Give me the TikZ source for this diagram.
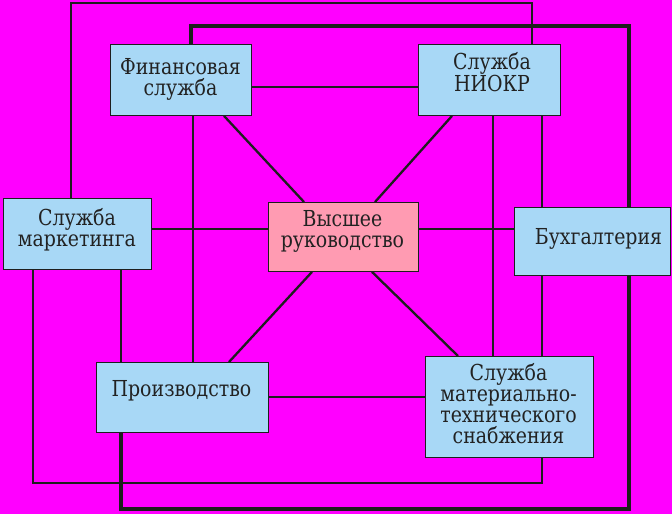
\documentclass[tikz,border=0pt]{standalone}
\usepackage{fontspec}
\newfontfamily\lserif{DejaVu Serif}[FakeStretch=0.86]
\definecolor{bg}{HTML}{FF00FF}
\definecolor{boxblue}{HTML}{A8D8F6}
\definecolor{boxpink}{HTML}{FF9BB2}
\definecolor{ln}{HTML}{1E1E1E}
\definecolor{txt}{HTML}{222222}
\pgfdeclarelayer{bgfill}
\pgfdeclarelayer{bglines}
\pgfsetlayers{bgfill,bglines,main}
\tikzset{
  box/.style={draw=ln, line width=0.9pt, fill=boxblue, rectangle, inner sep=0pt, anchor=north west},
  pinkbox/.style={box, fill=boxpink},
  lbl/.style={text=txt, align=center, inner sep=0pt, font=\lserif\fontsize{22}{21}\selectfont},
  conn/.style={draw=ln, line width=2.3pt},
  thickconn/.style={draw=ln, line width=2.8pt},
  heavyconn/.style={draw=ln, line width=3.3pt},
}
\begin{document}
\begin{tikzpicture}[x=1pt, y=-1pt]
\useasboundingbox (0,0) rectangle (672,514);
\begin{pgfonlayer}{bgfill}
\fill[bg] (0,0) rectangle (672,514);
\end{pgfonlayer}
% boxes
\node[box, minimum width=141pt, minimum height=71pt] (fin) at (110,44) {};
\node[box, minimum width=142pt, minimum height=71pt] (niokr) at (418,44) {};
\node[box, minimum width=148pt, minimum height=71pt] (mark) at (3,198) {};
\node[pinkbox, minimum width=150pt, minimum height=69pt] (vyssh) at (268,202) {};
\node[box, minimum width=156pt, minimum height=68pt] (buh) at (514,207) {};
\node[box, minimum width=172pt, minimum height=70pt] (proizv) at (96,362) {};
\node[box, minimum width=168pt, minimum height=101pt] (mts) at (425,356) {};
% labels
\node[lbl] (finT) at (180.5,79) {Финансовая\\служба};
\node[lbl] (niokrT) at (492,72.5) {Служба\\НИОКР};
\node[lbl] (markT) at (77,229.5) {Служба\\маркетинга};
\node[lbl] (vysshT) at (342.5,231) {Высшее\\руководство};
\node[lbl] (buhT) at (598.5,239) {Бухгалтерия};
\node[lbl] (proizvT) at (181.5,391) {Производство};
\node[lbl] (mtsT) at (508.5,403.5) {Служба\\материально-\\технического\\снабжения};
% connectors (behind boxes)
\begin{pgfonlayer}{bglines}
\draw[thickconn] (71,0 |- mark.north) -- (71,3) -- (532,3) -- (532,0 |- niokr.north);
\draw[heavyconn] (191,0 |- fin.north) -- (191,26) -- (629,26) -- (629,509) -- (121,509) -- (121,0 |- proizv.south);
\draw[conn] (33,0 |- mark.south) -- (33,483) -- (542,483) -- (542,0 |- mts.south);
\draw[thickconn] (fin.east |- 0,87) -- (niokr.west |- 0,87);
\draw[conn] (193,0 |- fin.south) -- (193,0 |- proizv.north);
\draw[conn] (493,0 |- niokr.south) -- (493,0 |- mts.north);
\draw[conn] (542,0 |- niokr.south) -- (542,0 |- buh.north);
\draw[conn] (542,0 |- buh.south) -- (542,0 |- mts.north);
\draw[thickconn] (mark.east |- 0,229) -- (vyssh.west |- 0,229);
\draw[thickconn] (vyssh.east |- 0,229) -- (buh.west |- 0,229);
\draw[conn] (121,0 |- mark.south) -- (121,0 |- proizv.north);
\draw[conn] (proizv.east |- 0,397) -- (mts.west |- 0,397);
\draw[conn] (224,0 |- fin.south) -- (304,0 |- vyssh.north);
\draw[conn] (452,0 |- niokr.south) -- (375,0 |- vyssh.north);
\draw[conn] (312,0 |- vyssh.south) -- (229,0 |- proizv.north);
\draw[conn] (372,0 |- vyssh.south) -- (458,0 |- mts.north);
\end{pgfonlayer}
\end{tikzpicture}
\end{document}
